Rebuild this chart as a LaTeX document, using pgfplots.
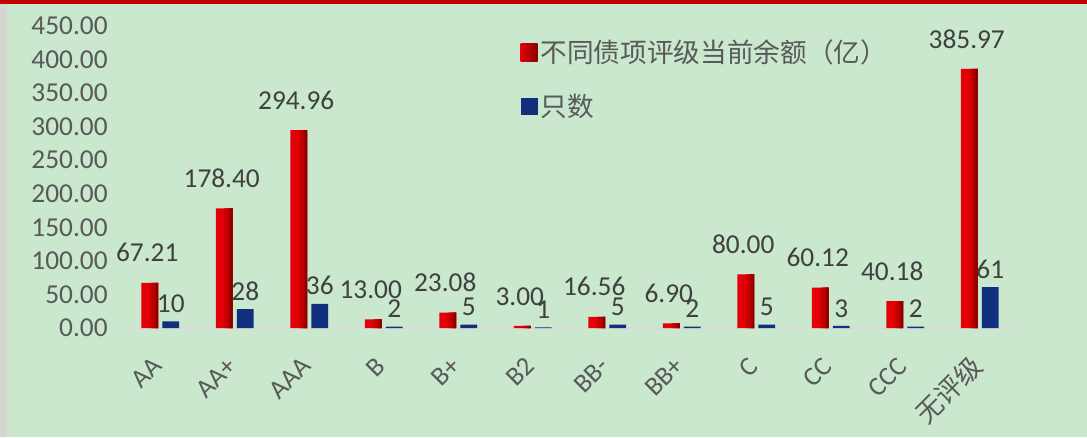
\documentclass[border=0pt]{standalone}
\usepackage{pgfplots}
\usepackage{pgfplotstable}
\pgfplotsset{compat=1.18}
\usepackage{fontspec}
\setmainfont{Carlito}
\newfontfamily\cjk{Noto Sans CJK SC}

\definecolor{bgc}{HTML}{C9E8CD}
\definecolor{topred}{HTML}{C00000}
\definecolor{edgegray}{HTML}{D6D6D0}
\definecolor{zerogray}{HTML}{D9D9D9}
\definecolor{ticktxt}{HTML}{595959}
\definecolor{lbltxt}{HTML}{404040}
\definecolor{red0}{HTML}{E30008}
\definecolor{red1}{HTML}{D00000}
\definecolor{red2}{HTML}{BA0000}
\definecolor{red3}{HTML}{A20000}
\definecolor{red4}{HTML}{880000}
\definecolor{navy}{HTML}{10307F}

% amounts (100 million) and counts per rating
\pgfplotstableread{
x amount count
0 67.21 10
1 178.40 28
2 294.96 36
3 13.00 2
4 23.08 5
5 3.00 1
6 16.56 5
7 6.90 2
8 80.00 5
9 60.12 3
10 40.18 2
11 385.97 61
}\ratings

% 1 px of the reference = 0.75pt
\begin{document}
\begin{tikzpicture}
  \fill[bgc] (-92.25pt,-81.75pt) rectangle (723pt,246pt);
  \fill[edgegray] (-92.25pt,-81.75pt) rectangle (-87pt,243pt);
  \fill[topred] (-92.25pt,243pt) rectangle (723pt,246pt);
  \begin{axis}[
      at={(0,0)}, anchor=south west,
      scale only axis,
      width=670.5pt, height=226.5pt,
      xmin=-0.5, xmax=11.5,
      ymin=0, ymax=450,
      ytick={0,50,...,450},
      xtick={0,...,11},
      xticklabels={AA,AA+,AAA,B,B+,B2,BB-,BB+,C,CC,CCC,{\cjk 无评级}},
      axis x line=bottom, axis y line=left,
      x axis line style={draw=zerogray, line width=1.2pt, -},
      y axis line style={draw=none},
      major tick length=0pt,
      scaled y ticks=false,
      yticklabel style={font=\fontsize{20.5}{23}\selectfont, color=ticktxt,
        /pgf/number format/fixed, /pgf/number format/fixed zerofill,
        /pgf/number format/precision=2, /pgf/number format/assume math mode=true,
        xshift=-8pt},
      % shifts are taken in the rotated frame
      xticklabel style={font=\fontsize{20}{23}\selectfont, color=ticktxt,
        rotate=45, anchor=east, xshift=-16pt, yshift=-16.5pt},
      ybar,
      legend style={at={(rel axis cs:0.44,0.972)}, anchor=north west,
        draw=none, fill=none, font=\cjk\fontsize{20}{23}\selectfont,
        text=ticktxt, row sep=18pt,
        /tikz/every even column/.append style={column sep=2pt}},
      legend cell align=left,
      legend image code/.code={\fill[#1] (0pt,-6.4pt) rectangle (12.8pt,6.4pt);},
    ]
    % amount bars: bright base, darker strips toward the right edge
    \addplot[ybar, bar width=0.223, bar shift=-0.141, draw=none, fill=red0,
      legend image code/.code={\fill[left color=red0, right color=red4]
        (0pt,-6.4pt) rectangle (12.8pt,6.4pt);}]
      table[x=x, y=amount] {\ratings};
    \addplot[ybar, bar width=0.1115, bar shift=-0.08525, draw=none, fill=red1, forget plot]
      table[x=x, y=amount] {\ratings};
    \addplot[ybar, bar width=0.078, bar shift=-0.0685, draw=none, fill=red2, forget plot]
      table[x=x, y=amount] {\ratings};
    \addplot[ybar, bar width=0.0446, bar shift=-0.0518, draw=none, fill=red3, forget plot]
      table[x=x, y=amount] {\ratings};
    \addplot[ybar, bar width=0.018, bar shift=-0.0385, draw=none, fill=red4, forget plot,
      nodes near coords={\pgfmathprintnumber[fixed,fixed zerofill,precision=2,assume math mode=true]{\pgfplotspointmeta}},
      every node near coord/.append style={font=\fontsize{20.5}{23}\selectfont,
        color=lbltxt, anchor=south, xshift=-7.6pt, yshift=12pt}]
      table[x=x, y=amount] {\ratings};
    % counts
    \addplot[ybar, bar width=0.223, bar shift=0.141, draw=none, fill=navy,
      nodes near coords={\pgfmathprintnumber[fixed,precision=0,assume math mode=true]{\pgfplotspointmeta}},
      every node near coord/.append style={font=\fontsize{20.5}{23}\selectfont,
        color=lbltxt, anchor=south, yshift=3pt}]
      table[x=x, y=count] {\ratings};
    \legend{不同债项评级当前余额（亿）,只数}
  \end{axis}
  \pgfresetboundingbox
  \path[use as bounding box] (-92.25pt,-81.75pt) rectangle (723pt,246pt);
\end{tikzpicture}
\end{document}
